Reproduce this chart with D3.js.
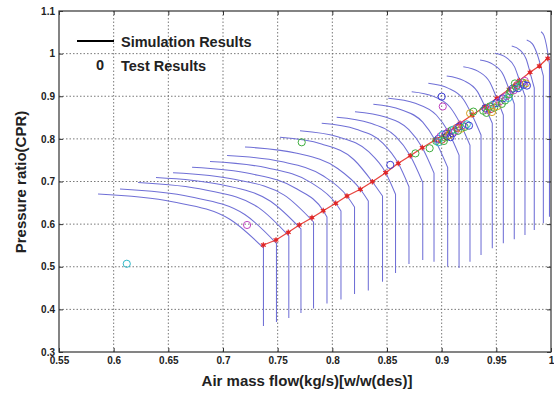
<!DOCTYPE html>
<html><head><meta charset="utf-8">
<script src="https://cdn.jsdelivr.net/npm/d3@7"></script>
<style>body{margin:0;background:#fff}svg{display:block}</style>
</head><body>
<svg id="c" width="554" height="394"></svg>
<script>
const xTicks=[0.55,0.6,0.65,0.7,0.75,0.8,0.85,0.9,0.95,1];
const yTicks=[0.3,0.4,0.5,0.6,0.7,0.8,0.9,1,1.1];

// speed lines: points from low-flow end to start of the choke (vertical) part
const speedCurves=[
 [[0.5857,0.6707],[0.6537,0.6526],[0.7066,0.6109],[0.7370,0.5440]],
 [[0.6058,0.6824],[0.6700,0.6643],[0.7199,0.6226],[0.7489,0.5546]],
 [[0.6223,0.6977],[0.6841,0.6801],[0.7322,0.6393],[0.7602,0.5722]],
 [[0.6387,0.7094],[0.6977,0.6927],[0.7435,0.6536],[0.7713,0.5886]],
 [[0.6543,0.7207],[0.7115,0.7047],[0.7560,0.6679],[0.7828,0.6050]],
 [[0.6717,0.7333],[0.7257,0.7181],[0.7677,0.6824],[0.7917,0.6315],[0.7951,0.6167]],
 [[0.6881,0.7469],[0.7399,0.7321],[0.7801,0.6979],[0.8031,0.6489],[0.8079,0.6308]],
 [[0.7037,0.7610],[0.7531,0.7467],[0.7915,0.7134],[0.8134,0.6660],[0.8203,0.6402]],
 [[0.7201,0.7809],[0.7676,0.7662],[0.8045,0.7312],[0.8256,0.6817],[0.8329,0.6543]],
 [[0.7521,0.8037],[0.7901,0.7880],[0.8196,0.7516],[0.8366,0.6995],[0.8459,0.6660]],
 [[0.7704,0.8192],[0.8057,0.8044],[0.8332,0.7699],[0.8488,0.7207],[0.8578,0.6700]],
 [[0.7903,0.8365],[0.8218,0.8225],[0.8464,0.7896],[0.8603,0.7427],[0.8701,0.6878]],
 [[0.8040,0.8506],[0.8343,0.8370],[0.8579,0.8056],[0.8713,0.7605],[0.8827,0.6977]],
 [[0.8207,0.8638],[0.8485,0.8511],[0.8700,0.8215],[0.8823,0.7793],[0.8930,0.7197]],
 [[0.8375,0.8811],[0.8629,0.8685],[0.8827,0.8391],[0.8939,0.7974],[0.9055,0.7331]],
 [[0.8512,0.8952],[0.8759,0.8835],[0.8951,0.8560],[0.9061,0.8168],[0.9159,0.7619]],
 [[0.8726,0.9107],[0.8925,0.8997],[0.9079,0.8736],[0.9168,0.8365],[0.9259,0.7849]],
 [[0.8878,0.9304],[0.9058,0.9191],[0.9198,0.8931],[0.9278,0.8560],[0.9360,0.8091]],
 [[0.9046,0.9475],[0.9203,0.9367],[0.9326,0.9114],[0.9396,0.8755],[0.9463,0.8365]],
 [[0.9198,0.9693],[0.9335,0.9583],[0.9442,0.9323],[0.9504,0.8952],[0.9564,0.8560]],
 [[0.9351,0.9850],[0.9470,0.9747],[0.9563,0.9506],[0.9616,0.9163],[0.9664,0.8818]],
 [[0.9488,1.0008],[0.9589,0.9911],[0.9667,0.9689],[0.9712,0.9370],[0.9762,0.9006]],
 [[0.9641,1.0179],[0.9716,1.0085],[0.9774,0.9869],[0.9808,0.9562],[0.9847,0.9194]],
 [[0.9778,1.0320],[0.9830,1.0228],[0.9870,1.0015],[0.9930,0.9475]],
 [[0.9909,1.0514],[0.9936,1.0421],[0.9958,1.0202],[0.9986,0.9750]]
];
// lowest pressure ratio reached by each speed line's vertical (choke) part
const chokeBottom=[0.3610,0.3704,0.3798,0.3915,0.4021,0.4138,0.4232,0.4361,0.4443,0.4649,0.4853,0.5065,0.5158,0.5119,0.5001,0.4971,0.5119,0.5276,0.5433,0.5550,0.5644,0.5745,0.5862,0.6019,0.6174];

// operating line (red, star markers)
const opX=[0.7369,0.7485,0.7597,0.7698,0.7814,0.7917,0.8031,0.8134,0.8256,0.8366,0.8488,0.8603,0.8713,0.8823,0.8939,0.9061,0.9168,0.9278,0.9396,0.9504,0.9616,0.9712,0.9808,0.9893,0.9970];
const opY=[0.5510,0.5628,0.5808,0.5980,0.6151,0.6315,0.6489,0.6660,0.6817,0.6995,0.7207,0.7427,0.7605,0.7793,0.7974,0.8168,0.8365,0.8560,0.8755,0.8952,0.9163,0.9370,0.9562,0.9710,0.9890];

// test results
const testX=[0.612,0.722,0.772,0.853,0.876,0.889,0.901,0.900,0.926,0.929,
0.895,0.897,0.899,0.900,0.901,0.903,0.904,0.905,0.906,0.907,0.909,0.910,0.911,0.912,0.914,0.915,0.916,0.918,0.919,0.921,0.923,0.925,0.897,0.902,0.908,
0.938,0.940,0.942,0.944,0.945,0.947,0.948,0.950,0.951,0.953,0.955,0.956,0.958,0.959,0.961,0.962,0.941,0.946,
0.963,0.965,0.966,0.968,0.969,0.970,0.971,0.972,0.974,0.975,0.976,0.977,0.978,0.967];
const testY=[0.507,0.598,0.792,0.739,0.766,0.778,0.876,0.899,0.860,0.864,
0.795,0.800,0.806,0.798,0.810,0.803,0.812,0.806,0.816,0.809,0.820,0.813,0.822,0.817,0.826,0.819,0.829,0.824,0.832,0.828,0.834,0.831,0.792,0.795,0.804,
0.866,0.872,0.868,0.876,0.870,0.880,0.873,0.884,0.877,0.888,0.882,0.895,0.890,0.900,0.896,0.905,0.861,0.863,
0.912,0.918,0.914,0.922,0.926,0.919,0.930,0.924,0.932,0.927,0.936,0.930,0.925,0.930];
const testC=["c","m","g","b","g","g","m","b","y","g",
"g","b","m","r","c","g","b","k","m","y","g","b","c","m","r","g","b","y","m","g","c","b","c","g","b",
"g","b","m","g","r","c","g","b","y","m","g","b","g","m","c","g","g","y",
"g","b","m","g","r","b","m","c","g","b","m","y","b","g"];
const palette={g:"#3fae3f",b:"#3b3bd6",m:"#c044c0",c:"#2fb8c8",r:"#e03434",y:"#d4a020",k:"#444444"};

const svg=d3.select("#c");
const FONT='"Liberation Sans", Arial, Helvetica, sans-serif';
const x=d3.scaleLinear().domain([0.55,1]).range([59,551]);
const y=d3.scaleLinear().domain([0.3,1.1]).range([352,11]);

svg.append("rect").attr("width",554).attr("height",394).attr("fill","#fff");

// grid
const grid=svg.append("g").attr("stroke","#6a6a6a").attr("stroke-width",0.9).attr("stroke-dasharray","1.5,2");
grid.selectAll("line.gx").data(xTicks.slice(1,-1)).join("line")
  .attr("x1",d=>x(d)).attr("x2",d=>x(d)).attr("y1",y(0.3)).attr("y2",y(1.1));
grid.selectAll("line.gy").data(yTicks.slice(1,-1)).join("line").attr("class","gy")
  .attr("y1",d=>y(d)).attr("y2",d=>y(d)).attr("x1",x(0.55)).attr("x2",x(1));

// speed lines
const curve=d3.line().x(d=>x(d[0])).y(d=>y(d[1])).curve(d3.curveMonotoneX);
svg.append("g").attr("fill","none").attr("stroke","#7070d6").attr("stroke-width",1.05)
  .selectAll("path").data(speedCurves).join("path")
  .attr("d",(d,i)=>{const k=d[d.length-1];return curve(d)+"L"+x(k[0])+","+y(chokeBottom[i]);});

// operating line
const opPts=opX.map((v,i)=>[v,opY[i]]);
svg.append("path").datum(opPts).attr("fill","none").attr("stroke","#e8463f").attr("stroke-width",1.3)
  .attr("d",d3.line().x(d=>x(d[0])).y(d=>y(d[1])));
const star=d3.symbol().type(d3.symbolAsterisk).size(22);
svg.append("g").selectAll("g").data(opPts).join("g")
  .attr("transform",d=>`translate(${x(d[0])},${y(d[1])})`)
  .call(g=>{g.append("circle").attr("r",1.8).attr("fill","#e02828");
            g.append("path").attr("d",star).attr("fill","none").attr("stroke","#e02828").attr("stroke-width",1.1);});

// test results
svg.append("g").attr("fill","none").attr("stroke-width",1)
  .selectAll("circle").data(testX).join("circle")
  .attr("cx",d=>x(d)).attr("cy",(d,i)=>y(testY[i])).attr("r",3.6)
  .attr("stroke",(d,i)=>palette[testC[i]]);

// frame
svg.append("rect").attr("x",x(0.55)).attr("y",y(1.1)).attr("width",x(1)-x(0.55)).attr("height",y(0.3)-y(1.1))
  .attr("fill","none").attr("stroke","#333").attr("stroke-width",1.2);

// axes
const fmt=d=>String(d);
function styleAxis(g){g.select(".domain").remove();g.selectAll(".tick line").attr("stroke","#333");
  g.selectAll("text").attr("font-family",FONT).attr("font-size",10).attr("font-weight","bold").attr("fill","#222");}
svg.append("g").attr("transform",`translate(0,${y(0.3)})`)
  .call(d3.axisBottom(x).tickValues(xTicks).tickSize(-4).tickPadding(5).tickFormat(fmt)).call(styleAxis);
svg.append("g").attr("transform",`translate(0,${y(1.1)})`)
  .call(d3.axisTop(x).tickValues(xTicks).tickSize(-4).tickFormat("")).call(styleAxis);
svg.append("g").attr("transform",`translate(${x(0.55)},0)`)
  .call(d3.axisLeft(y).tickValues(yTicks).tickSize(-4).tickPadding(4).tickFormat(fmt)).call(styleAxis);
svg.append("g").attr("transform",`translate(${x(1)},0)`)
  .call(d3.axisRight(y).tickValues(yTicks).tickSize(-4).tickFormat("")).call(styleAxis);

// axis labels
svg.append("text").attr("x",307).attr("y",386).attr("text-anchor","middle")
  .attr("font-family",FONT).attr("font-size",15).attr("font-weight","bold").attr("fill","#222")
  .text("Air mass flow(kg/s)[w/w(des)]");
svg.append("text").attr("transform","translate(26,182) rotate(-90)").attr("text-anchor","middle")
  .attr("font-family",FONT).attr("font-size",15).attr("font-weight","bold").attr("fill","#222")
  .text("Pressure ratio(CPR)");

// legend
svg.append("line").attr("x1",77).attr("x2",114).attr("y1",41).attr("y2",41).attr("stroke","#000").attr("stroke-width",2);
const leg=svg.append("g").attr("font-family",FONT).attr("font-size",14.5).attr("font-weight","bold").attr("fill","#222");
leg.append("text").attr("x",121).attr("y",46.5).text("Simulation Results");
leg.append("text").attr("x",100).attr("y",70).attr("text-anchor","middle").text("0");
leg.append("text").attr("x",121).attr("y",70.5).text("Test Results");
</script>
</body></html>
